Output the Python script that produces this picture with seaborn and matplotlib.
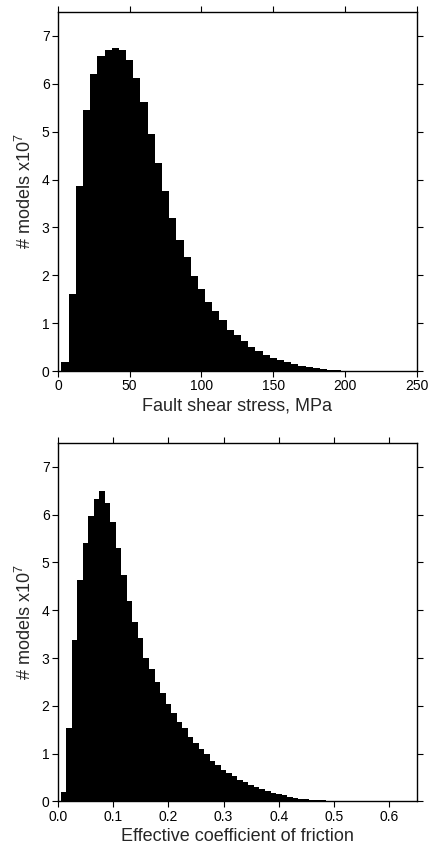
import numpy as np
import pandas as pd
import matplotlib
matplotlib.use("Agg")
import matplotlib.pyplot as plt
import seaborn as sns

# Histogram counts (x10^7)
stress_centers = np.arange(5, 210, 5)
stress_counts = [0.19, 1.61, 3.86, 5.45, 6.20, 6.57, 6.70, 6.74, 6.70, 6.49,
                 6.13, 5.61, 4.96, 4.35, 3.76, 3.19, 2.73, 2.38, 1.98, 1.71,
                 1.44, 1.25, 1.07, 0.86, 0.75, 0.63, 0.50, 0.42, 0.33, 0.27,
                 0.23, 0.19, 0.15, 0.10, 0.08, 0.06, 0.04, 0.03, 0.02, 0.01,
                 0.005]

friction_centers = np.round(np.arange(0.01, 0.53, 0.01), 2)
friction_counts = [0.19, 1.53, 3.38, 4.64, 5.40, 5.97, 6.32, 6.49, 6.24, 5.84,
                   5.30, 4.73, 4.20, 3.76, 3.41, 3.01, 2.76, 2.49, 2.26, 2.03,
                   1.84, 1.65, 1.53, 1.34, 1.22, 1.09, 0.99, 0.84, 0.76, 0.65,
                   0.59, 0.53, 0.44, 0.40, 0.34, 0.29, 0.26, 0.22, 0.17, 0.15,
                   0.125, 0.09, 0.07, 0.055, 0.04, 0.03, 0.02, 0.02, 0.01, 0.01,
                   0.005, 0.005]

stress_df = pd.DataFrame({"stress": stress_centers, "count": stress_counts})
friction_df = pd.DataFrame({"mu": friction_centers, "count": friction_counts})

sns.set_style("ticks")
plt.rcParams["font.family"] = ["Liberation Sans", "DejaVu Sans"]
plt.rcParams["mathtext.fontset"] = "custom"
plt.rcParams["mathtext.rm"] = "Liberation Sans"
plt.rcParams["mathtext.default"] = "regular"

fig = plt.figure(figsize=(4.32, 8.55), dpi=100)
ax1 = fig.add_axes([0.134, 0.566, 0.831, 0.420])
ax2 = fig.add_axes([0.134, 0.0628, 0.831, 0.419])

sns.histplot(data=stress_df, x="stress", weights="count", binwidth=5,
             binrange=(2.5, 207.5), color="black", edgecolor="none",
             alpha=1, ax=ax1)
sns.histplot(data=friction_df, x="mu", weights="count", binwidth=0.01,
             binrange=(0.005, 0.525), color="black", edgecolor="none",
             alpha=1, ax=ax2)

ax1.set_xlim(0, 250)
ax1.set_xticks([0, 50, 100, 150, 200, 250])
ax1.set_xlabel("Fault shear stress, MPa", fontsize=13, labelpad=3)

ax2.set_xlim(0, 0.65)
ax2.set_xticks([0.0, 0.1, 0.2, 0.3, 0.4, 0.5, 0.6])
ax2.set_xticklabels(["0.0", "0.1", "0.2", "0.3", "0.4", "0.5", "0.6"])
ax2.set_xlabel("Effective coefficient of friction", fontsize=13, labelpad=3)

for ax in (ax1, ax2):
    ax.set_ylim(0, 7.5)
    ax.set_yticks(range(0, 8))
    ax.set_ylabel("# models x10$^{7}$", fontsize=13, labelpad=5)
    ax.tick_params(direction="out", length=4, width=0.8, labelsize=10,
                   top=True, right=True, labeltop=False, labelright=False,
                   colors="black", pad=2)
    for s in ax.spines.values():
        s.set_visible(True)
        s.set_linewidth(1.0)
        s.set_color("black")

fig.savefig("out.png", dpi=100)
